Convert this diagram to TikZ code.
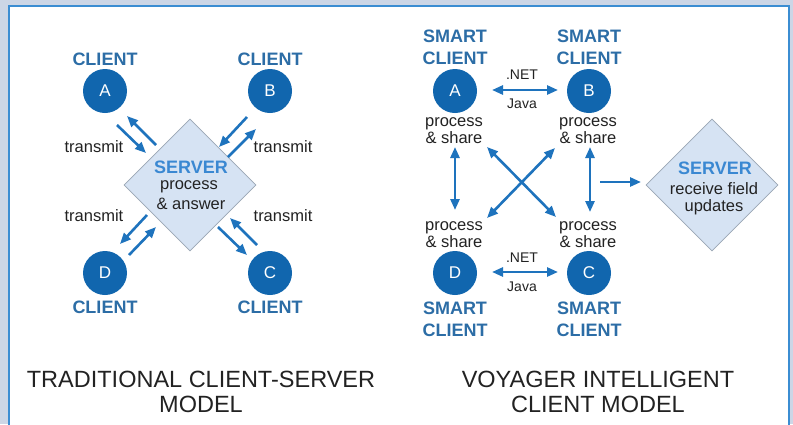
\documentclass[tikz,border=0pt]{standalone}
\usepackage{fontspec}
\setmainfont{Liberation Sans}
\usetikzlibrary{arrows.meta,shapes.geometric}
\definecolor{bgout}{HTML}{CCD6E6}
\definecolor{framec}{HTML}{3B8DD2}
\definecolor{cblue}{HTML}{1166AE}
\definecolor{ablue}{HTML}{1E73BD}
\definecolor{lblue}{HTML}{2C6DA6}
\definecolor{sblue}{HTML}{3A88D2}
\definecolor{dfill}{HTML}{D6E3F3}
\definecolor{dline}{HTML}{9AA6B4}
\definecolor{tgrey}{HTML}{222222}
\begin{document}
\begin{tikzpicture}[x=1pt,y=-1pt,
 client/.style={circle,fill=cblue,minimum size=44pt,inner sep=0,text=white,font=\fontsize{17}{17}\selectfont},
 clabel/.style={text=lblue,font=\bfseries\fontsize{18}{22}\selectfont,align=center,inner sep=0},
 slabel/.style={text=sblue,font=\bfseries\fontsize{18}{18}\selectfont,inner sep=0},
 small/.style={text=tgrey,font=\fontsize{16.5}{17}\selectfont,align=center,inner sep=0},
 tiny/.style={text=tgrey,font=\fontsize{14}{14}\selectfont,inner sep=0},
 server/.style={diamond,fill=dfill,draw=dline,line width=0.8pt,minimum width=132pt,minimum height=132pt,inner sep=0},
 conn/.style={draw=ablue,line width=2.6pt,-{Triangle[length=11pt,width=9pt]}},
 conn2/.style={draw=ablue,line width=2.6pt,{Triangle[length=11pt,width=9pt]}-{Triangle[length=11pt,width=9pt]}},
 title/.style={text=tgrey,font=\fontsize{23.5}{25}\selectfont,align=center,inner sep=0}]
% background
\fill[bgout] (0,0) rectangle (793,424);
\useasboundingbox (0,0) rectangle (793,424);
\draw[framec,fill=white,line width=2pt] (9,6) rectangle (789,440);

% ---------- left: traditional ----------
\node[server] (srvL) at (190,185) {};
\node[slabel] (srvLt) at (191,167) {SERVER};
\node[small] (srvLp) at (189,187) {process};
\node[small] (srvLa) at (191,204) {\& answer};

\node[client] (LA) at (105,91) {A};
\node[client] (LB) at (270,91) {B};
\node[client] (LD) at (105,273) {D};
\node[client] (LC) at (270,273) {C};
\node[clabel] (LAl) at (105,59) {CLIENT};
\node[clabel] (LBl) at (270,59) {CLIENT};
\node[clabel] (LDl) at (105,307) {CLIENT};
\node[clabel] (LCl) at (270,307) {CLIENT};

\node[small] (t1) at (94,147) {transmit};
\node[small] (t2) at (283,147) {transmit};
\node[small] (t3) at (94,216) {transmit};
\node[small] (t4) at (283,216) {transmit};

\coordinate (a1s) at (117,125); \coordinate (a1e) at (146,153);
\coordinate (a2s) at (156,145); \coordinate (a2e) at (127,116);
\coordinate (b1s) at (247,117); \coordinate (b1e) at (219,147);
\coordinate (b2s) at (228,157); \coordinate (b2e) at (256,129);
\coordinate (d1s) at (147,215); \coordinate (d1e) at (120,244);
\coordinate (d2s) at (129,255); \coordinate (d2e) at (156,227);
\coordinate (c1s) at (218,227); \coordinate (c1e) at (247,255);
\coordinate (c2s) at (257,245); \coordinate (c2e) at (230,218);
\draw[conn] (a1s) -- (a1e);
\draw[conn] (a2s) -- (a2e);
\draw[conn] (b1s) -- (b1e);
\draw[conn] (b2s) -- (b2e);
\draw[conn] (d1s) -- (d1e);
\draw[conn] (d2s) -- (d2e);
\draw[conn] (c1s) -- (c1e);
\draw[conn] (c2s) -- (c2e);

\node[title] (titL) at (201,392) {TRADITIONAL CLIENT-SERVER\\MODEL};

% ---------- right: voyager ----------
\node[server] (srvR) at (712,185) {};
\node[slabel] (srvRt) at (715,168) {SERVER};
\node[small] (srvRr) at (714,189) {receive field};
\node[small] (srvRu) at (714,207) {updates};

\node[client] (RA) at (455,91) {A};
\node[client] (RB) at (589,91) {B};
\node[client] (RD) at (455,273) {D};
\node[client] (RC) at (589,273) {C};
\node[clabel] (RAl) at (455,47) {SMART\\CLIENT};
\node[clabel] (RBl) at (589,47) {SMART\\CLIENT};
\node[clabel] (RDl) at (455,319) {SMART\\CLIENT};
\node[clabel] (RCl) at (589,319) {SMART\\CLIENT};

\node[small] (pA) at (454,131) {process\\\& share};
\node[small] (pB) at (588,131) {process\\\& share};
\node[small] (pD) at (454,235) {process\\\& share};
\node[small] (pC) at (588,235) {process\\\& share};

\node[tiny] (n1) at (522,75) {.NET};
\node[tiny] (j1) at (522,104) {Java};
\node[tiny] (n2) at (522,258) {.NET};
\node[tiny] (j2) at (522,287) {Java};

\coordinate (abL) at (492,90); \coordinate (abR) at (558,90);
\coordinate (dcL) at (492,272); \coordinate (dcR) at (558,272);
\coordinate (vlT) at (455,147); \coordinate (vlB) at (455,210);
\coordinate (vrT) at (590,147); \coordinate (vrB) at (590,212);
\coordinate (x1s) at (487,147); \coordinate (x1e) at (556,217);
\coordinate (x2s) at (555,148); \coordinate (x2e) at (487,218);
\coordinate (sv) at (600,182); \coordinate (sve) at (641,182);
\draw[conn2] (abL) -- (abR);
\draw[conn2] (dcL) -- (dcR);
\draw[conn2] (vlT) -- (vlB);
\draw[conn2] (vrT) -- (vrB);
\draw[conn2] (x1s) -- (x1e);
\draw[conn2] (x2s) -- (x2e);
\draw[conn] (sv) -- (sve);

\node[title] (titR) at (598,392) {VOYAGER INTELLIGENT\\CLIENT MODEL};
\end{tikzpicture}
\end{document}
